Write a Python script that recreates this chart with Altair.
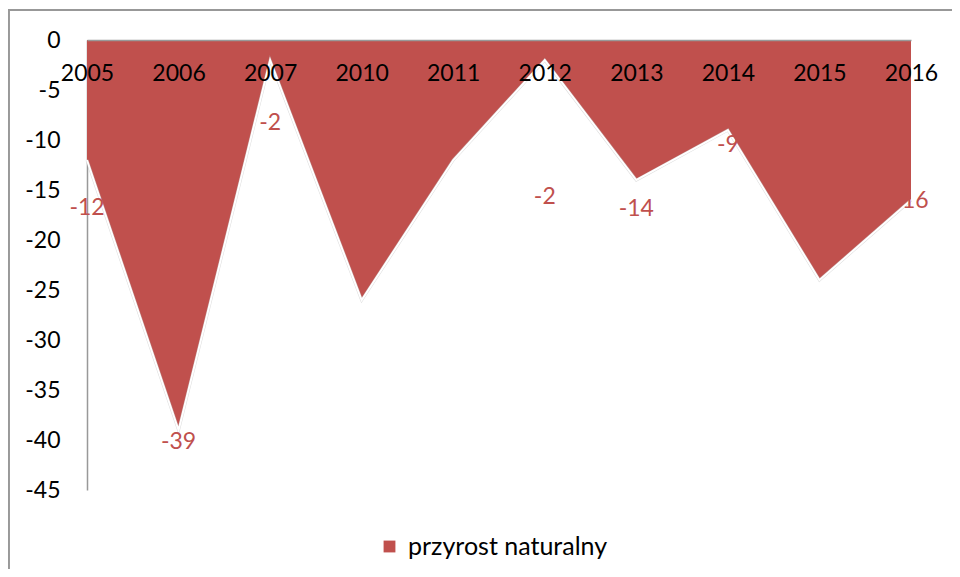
import altair as alt
import pandas as pd

years = ["2005", "2006", "2007", "2010", "2011", "2012", "2013", "2014", "2015", "2016"]
values = [-12, -39, -2, -26, -12, -2, -14, -9, -24, -16]
label_pos = [-16.8, -40.2, -8.3, -20, -8, -15.7, -16.9, -10.5, -19, -16.1]
series_name = "przyrost naturalny"
y_ticks = [0, -5, -10, -15, -20, -25, -30, -35, -40, -45]

RED = "#C0504D"
FONT = "Lato"

df = pd.DataFrame({
    "rok": years,
    "wartosc": values,
    "pozycja": label_pos,
    "etykieta": [str(v) for v in values],
    "seria": [series_name] * len(years),
})

x_enc = alt.X(
    "rok:O",
    sort=years,
    scale=alt.Scale(type="point", padding=0),
    axis=alt.Axis(
        title=None, orient="bottom", offset=-450, labelAngle=0,
        labelFontSize=23, labelFont=FONT, labelColor="black",
        labelPadding=22, ticks=False, domainColor="#999999", domainWidth=1.5,
        zindex=2, labelFlush=False,
    ),
)
y_scale = alt.Scale(domain=[-45, 0], nice=False, zero=True)

area = alt.Chart(df).mark_area(opacity=1, interpolate="linear").encode(
    x=x_enc,
    y=alt.Y(
        "wartosc:Q", scale=y_scale,
        axis=alt.Axis(
            title=None, values=y_ticks, labelExpr="'' + datum.value",
            labelFontSize=23, labelFont=FONT, labelColor="black",
            labelPadding=27, ticks=False, grid=False,
            domainColor="#999999", domainWidth=1.5,
        ),
    ),
    color=alt.Color(
        "seria:N",
        scale=alt.Scale(range=[RED]),
        legend=alt.Legend(
            title=None, orient="none", legendX=290, legendY=494,
            symbolType="square", symbolSize=140, symbolStrokeWidth=0,
            labelFontSize=25, labelFont=FONT, labelColor="black",
            labelOffset=6, labelLimit=500,
        ),
    ),
)

shadow = alt.Chart(df).mark_line(color="#bbbbbb", strokeWidth=3, opacity=0.5).encode(
    x=alt.X("rok:O", sort=years),
    y=alt.Y("wartosc:Q", scale=y_scale),
)

edge = alt.Chart(df).mark_line(color="white", strokeWidth=2).encode(
    x=alt.X("rok:O", sort=years),
    y=alt.Y("wartosc:Q", scale=y_scale),
)

labels = alt.Chart(df).mark_text(
    color=RED, fontSize=23, font=FONT, baseline="middle", align="center"
).encode(
    x=alt.X("rok:O", sort=years),
    y=alt.Y("pozycja:Q", scale=y_scale),
    text="etykieta:N",
)

frame_top = alt.Chart(df).mark_rule(color="#999999", strokeWidth=1.5, clip=False).encode(
    x=alt.value(-79), x2=alt.value(865), y=alt.value(-30)
)
frame_left = alt.Chart(df).mark_rule(color="#999999", strokeWidth=1.5, clip=False).encode(
    x=alt.value(-78.5), y=alt.value(-30), y2=alt.value(529)
)

chart = alt.layer(area, shadow, edge, labels, frame_top, frame_left).properties(
    width=824, height=450,
    autosize=alt.AutoSizeParams(type="none"),
    padding={"left": 79, "top": 32, "right": 41, "bottom": 79},
    background="white",
).configure_view(stroke=None)

chart.save("out.html", embed_options={"renderer": "svg", "actions": False})
